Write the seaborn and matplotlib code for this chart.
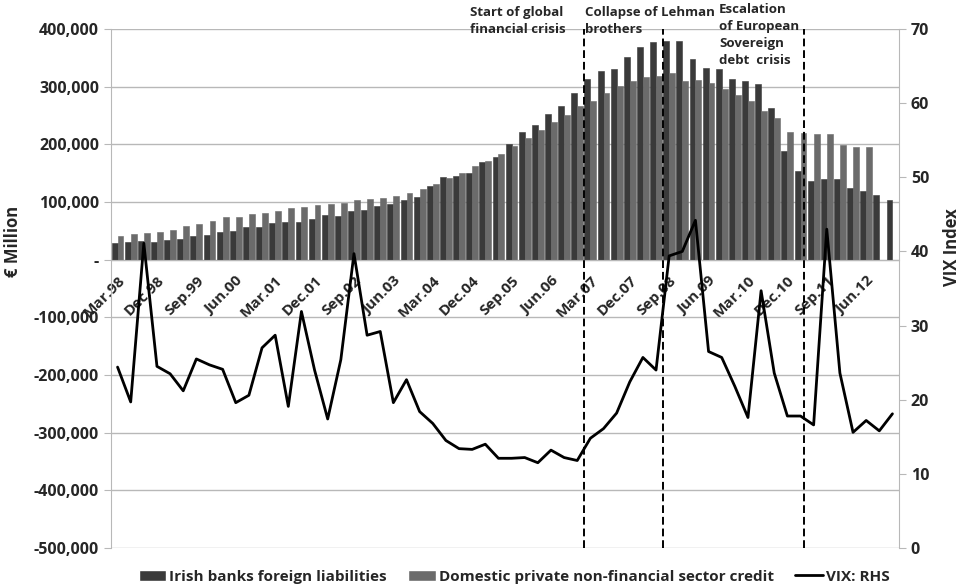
import numpy as np
import pandas as pd
import seaborn as sns
import matplotlib.pyplot as plt
from matplotlib.patches import Patch
from matplotlib.lines import Line2D
from matplotlib.ticker import FuncFormatter, MultipleLocator

# quarterly categories Mar.98 .. Dec.12
months = ["Mar", "Jun", "Sep", "Dec"]
quarters = [f"{m}.{y % 100:02d}" for y in range(1998, 2013) for m in months]

# EUR thousand million
irish_liab = [28.9, 30.6, 31.8, 30.0, 34.7, 35.8, 41.0, 43.3, 48.5, 49.1,
              57.2, 57.2, 63.5, 65.3, 64.7, 69.9, 77.4, 76.3, 84.3, 86.7,
              92.4, 97.0, 103.5, 108.7, 127.2, 143.3, 144.5, 149.7, 169.4, 177.4,
              200.6, 221.4, 232.9, 252.6, 267.0, 288.4, 312.7, 327.7, 330.6, 352.0,
              368.2, 376.9, 378.6, 378.6, 348.0, 332.4, 330.6, 313.3, 310.4, 304.6,
              263.0, 189.0, 153.2, 137.0, 139.3, 139.3, 124.3, 119.6, 112.7, 103.5]
dom_credit = [41.0, 43.9, 46.2, 48.5, 51.4, 57.8, 61.8, 67.0, 73.4, 74.5,
              79.1, 81.5, 84.3, 89.5, 91.3, 94.2, 95.9, 98.2, 103.4, 104.6,
              106.9, 109.8, 116.2, 122.5, 131.8, 141.0, 150.9, 161.8, 170.5, 183.2,
              196.5, 211.0, 224.3, 239.3, 251.4, 265.9, 275.7, 288.4, 300.6, 310.4,
              317.3, 318.5, 323.7, 310.4, 311.5, 306.9, 296.5, 286.1, 275.7, 258.4,
              246.2, 222.0, 219.6, 217.3, 217.3, 199.4, 195.4, 194.8, np.nan, np.nan]
vix = [24.4, 19.7, 41.1, 24.5, 23.5, 21.2, 25.5, 24.7, 24.1, 19.6,
       20.6, 27.0, 28.7, 19.1, 31.9, 24.0, 17.4, 25.4, 39.7, 28.7,
       29.2, 19.6, 22.7, 18.4, 16.8, 14.5, 13.4, 13.3, 14.0, 12.1,
       12.1, 12.2, 11.5, 13.2, 12.2, 11.8, 14.8, 16.1, 18.2, 22.4,
       25.7, 24.0, 39.4, 40.0, 44.2, 26.5, 25.7, 21.8, 17.6, 34.7,
       23.6, 17.8, 17.8, 16.6, 43.0, 23.6, 15.6, 17.2, 15.8, 18.1]

series_names = ["Irish banks foreign liabilities",
                "Domestic private non-financial sector credit"]
crisis_pos = [35.5, 41.5, 52.3]

df = pd.DataFrame({"quarter": quarters,
                   series_names[0]: np.array(irish_liab) * 1000,
                   series_names[1]: np.array(dom_credit) * 1000})
df_long = df.melt(id_vars="quarter", var_name="series", value_name="value")

sns.set_style("white")
plt.rcParams["font.family"] = ["Open Sans", "DejaVu Sans"]

dark = "#3a3a3a"
gray = "#6b6b6b"
gridc = "#b8b8b8"

fig = plt.figure(figsize=(9.63, 5.88), dpi=100)
ax = fig.add_axes([111 / 963, 40 / 588, 788 / 963, 519 / 588])

sns.barplot(data=df_long, x="quarter", y="value", hue="series",
            order=quarters, hue_order=series_names, palette=[dark, gray],
            saturation=1, width=0.9, errorbar=None, legend=False, ax=ax)
# thin edge in the fill colour so the bars read a bit wider, like the original
for bar in ax.patches:
    bar.set_edgecolor(bar.get_facecolor())
    bar.set_linewidth(0.4)

ax.set_ylim(-500000, 400000)
ax.yaxis.set_major_locator(MultipleLocator(100000))
ax.yaxis.set_major_formatter(FuncFormatter(lambda v, p: "-" if v == 0 else f"{v:,.0f}"))
ax.yaxis.grid(True, color=gridc, lw=1)
ax.set_axisbelow(True)
for s in ["top", "right"]:
    ax.spines[s].set_visible(False)
ax.spines["left"].set_color(gridc)
ax.spines["bottom"].set_position(("data", 0))
ax.spines["bottom"].set_color(gridc)

ax.set_xticks(range(0, 60, 3))
ax.set_xticklabels(quarters[::3], rotation=45, ha="right", rotation_mode="anchor",
                   fontsize=11, fontweight="bold")
ax.set_xticks(np.arange(-0.5, 60, 1), minor=True)
ax.tick_params(axis="x", which="major", length=0, pad=10)
ax.tick_params(axis="x", which="minor", length=5, color=gridc, direction="out")
ax.tick_params(axis="y", length=5, color=gridc, labelsize=11.5)
for t in ax.get_yticklabels():
    t.set_fontweight("bold")
ax.set_xlabel("")
ax.set_ylabel("€ Million", fontsize=12, fontweight="bold")
ax.yaxis.set_label_coords(-0.113, 0.59)

ax2 = ax.twinx()
sns.lineplot(x=np.arange(60), y=vix, color="black", lw=2, ax=ax2)
for p in crisis_pos:
    ax2.axvline(p, color="black", ls=(0, (4, 2)), lw=1.4)
ax2.set_ylim(0, 70)
ax2.set_yticks(range(0, 71, 10))
ax2.set_xlim(-0.5, 59.5)
ax2.grid(False)
for s in ["top", "left", "bottom"]:
    ax2.spines[s].set_visible(False)
ax2.spines["right"].set_color(gridc)
ax2.tick_params(axis="y", length=5, color=gridc, labelsize=11.5)
for t in ax2.get_yticklabels():
    t.set_fontweight("bold")
ax2.set_ylabel("VIX Index", fontsize=12, fontweight="bold")
ax2.yaxis.set_label_coords(1.056, 0.58)

note_kw = dict(fontsize=9.5, fontweight="bold", va="top", ha="left", linespacing=1.4)
fig.text(470 / 963, 1 - 6 / 588, "Start of global\nfinancial crisis", **note_kw)
fig.text(585 / 963, 1 - 6 / 588, "Collapse of Lehman\nbrothers", **note_kw)
fig.text(719 / 963, 1 - 3 / 588, "Escalation\nof European\nSovereign\ndebt  crisis", **note_kw)

handles = [Patch(facecolor=dark), Patch(facecolor=gray),
           Line2D([0], [0], color="black", lw=2)]
fig.legend(handles, series_names + ["VIX: RHS"], loc="center",
           bbox_to_anchor=(0.534, 0.019), ncol=3, frameon=False,
           prop={"size": 11, "weight": "bold"}, handlelength=1.8,
           handleheight=0.7, handletextpad=0.2, columnspacing=1.4)

fig.savefig("out.png", dpi=100)
